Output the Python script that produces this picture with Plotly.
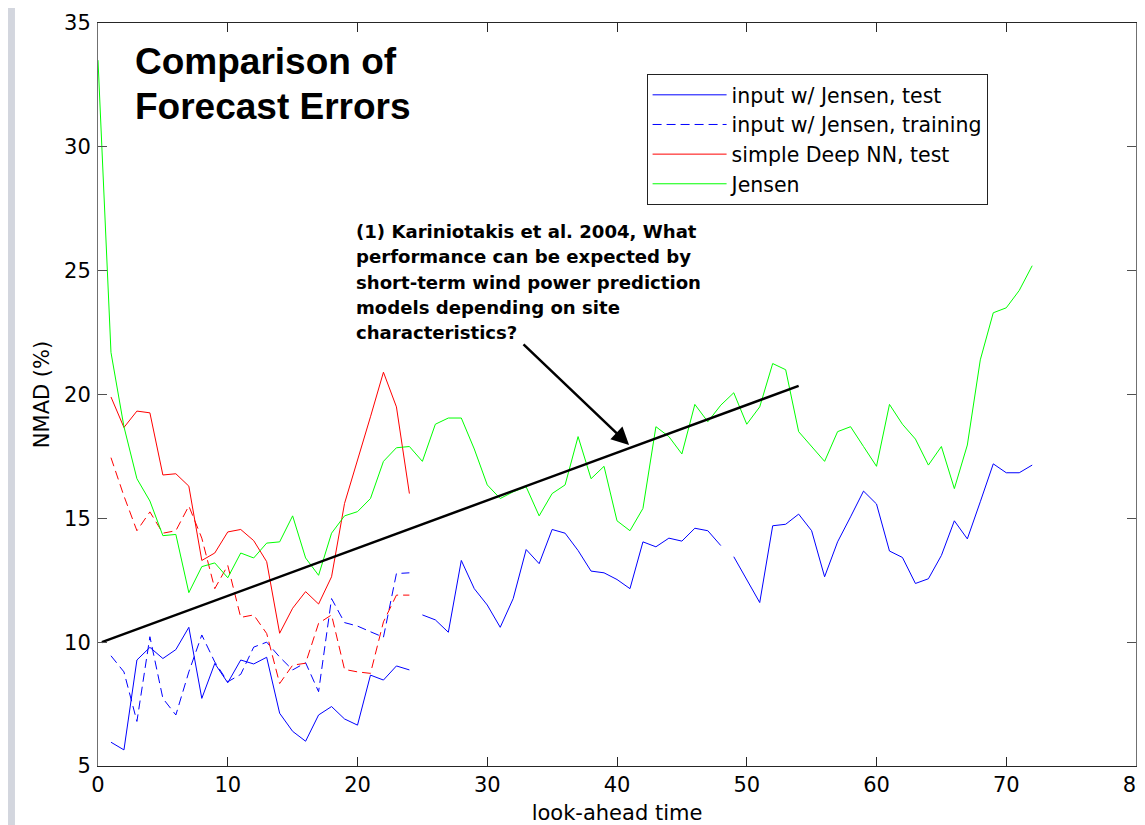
import plotly.graph_objects as go

# ---------------- data ----------------
hours_24 = list(range(1, 25))
hours_72 = list(range(1, 73))
hours_jensen = list(range(0, 73))

blue_test = [5.96, 5.65, 9.28, 9.79, 9.34, 9.7, 10.6, 7.73, 9.14, 8.36, 9.28, 9.12,
             9.39, 7.13, 6.4, 6.0, 7.06, 7.4, 6.9, 6.65, 8.67, 8.47, 9.04, 8.88,
             11.1, 10.9, 10.4, 13.3, 12.16, 11.5, 10.6, 11.76, 13.74, 13.17, 14.55, 14.4,
             13.7, 12.87, 12.8, 12.53, 12.16, 14.05, 13.85, 14.2, 14.08, 14.6, 14.5, 13.9,
             13.45, 12.5, 11.6, 14.7, 14.76, 15.17, 14.5, 12.64, 14.05, 15.06, 16.1, 15.58,
             13.68, 13.42, 12.37, 12.56, 13.5, 14.9, 14.17, 15.67, 17.2, 16.84, 16.84, 17.15]

blue_train = [9.45, 8.8, 6.8, 10.22, 7.73, 7.06, 8.8, 10.29, 9.2, 8.4, 8.7, 9.8,
              10.0, 9.4, 8.88, 9.17, 8.0, 11.76, 10.79, 10.65, 10.42, 10.2, 12.77, 12.8]

red_test = [19.9, 18.67, 19.33, 19.26, 16.75, 16.8, 16.3, 13.3, 13.6, 14.45, 14.55, 14.1,
            13.25, 10.36, 11.37, 12.04, 11.54, 12.64, 15.6, 17.3, 19.1, 20.9, 19.5, 16.0]

red_train = [17.45, 15.9, 14.5, 15.26, 14.4, 14.5, 15.5, 14.2, 12.16, 13.1, 11.0, 11.1,
             10.35, 8.33, 9.07, 9.15, 10.76, 11.1, 8.9, 8.8, 8.74, 10.82, 11.9, 11.9]

jensen = [33.5, 21.7, 18.7, 16.6, 15.7, 14.3, 14.35, 12.0, 13.05, 13.2, 12.6, 13.6,
          13.4, 14.0, 14.05, 15.1, 13.4, 12.7, 14.4, 15.1, 15.27, 15.8, 17.3, 17.85,
          17.9, 17.3, 18.8, 19.05, 19.05, 17.8, 16.35, 15.8, 16.07, 16.27, 15.1, 16.0,
          16.35, 18.3, 16.6, 17.1, 14.9, 14.5, 15.4, 18.7, 18.3, 17.6, 19.6, 18.9,
          19.57, 20.07, 18.8, 19.5, 21.25, 21.0, 18.5, 17.9, 17.3, 18.5, 18.7, 17.9,
          17.1, 19.6, 18.8, 18.2, 17.15, 17.9, 16.2, 17.96, 21.4, 23.3, 23.5, 24.2, 25.2]

segment_length = 24  # blue test series consists of three 24-hour forecast runs

trend_x = [0.3, 54.0]
trend_y = [10.0, 20.35]

arrow_tip = (40.93, 17.96)
arrow_tail = (32.68, 22.08)

legend_names = ["input w/ Jensen, test", "input w/ Jensen, training",
                "simple Deep NN, test", "Jensen"]
title_lines = ["Comparison of", "Forecast Errors"]
note_lines = ["(1) Kariniotakis et al. 2004, What",
              "performance can be expected by",
              "short-term wind power prediction",
              "models depending on site",
              "characteristics?"]
x_ticks = list(range(0, 81, 10))
y_ticks = list(range(5, 36, 5))

# ---------------- figure ----------------
TITLE_FONT = "Liberation Sans, Arial, sans-serif"
SMALL_FONT = "DejaVu Sans, sans-serif"

# break blue test into its segments
bt_x, bt_y = [], []
for i, (h, v) in enumerate(zip(hours_72, blue_test)):
    if i > 0 and i % segment_length == 0:
        bt_x.append(None)
        bt_y.append(None)
    bt_x.append(h)
    bt_y.append(v)

fig = go.Figure()
fig.add_trace(go.Scatter(x=bt_x, y=bt_y, mode="lines", name=legend_names[0],
                         line=dict(color="#0000ff", width=1), connectgaps=False))
fig.add_trace(go.Scatter(x=hours_24, y=blue_train, mode="lines", name=legend_names[1],
                         line=dict(color="#0000ff", width=1, dash="9px,5px")))
fig.add_trace(go.Scatter(x=hours_24, y=red_test, mode="lines", name=legend_names[2],
                         line=dict(color="#ff0000", width=1)))
fig.add_trace(go.Scatter(x=hours_24, y=red_train, mode="lines", showlegend=False,
                         line=dict(color="#ff0000", width=1, dash="9px,5px")))
fig.add_trace(go.Scatter(x=hours_jensen, y=jensen, mode="lines", name=legend_names[3],
                         line=dict(color="#00ff00", width=1)))
fig.add_trace(go.Scatter(x=trend_x, y=trend_y, mode="lines", showlegend=False,
                         line=dict(color="black", width=2.5)))

annotations = []
# title
for i, t in enumerate(title_lines):
    annotations.append(dict(x=2.7, y=33.45 - i * 1.82, xref="x", yref="y", text=t,
                            showarrow=False, xanchor="left", yanchor="middle",
                            font=dict(family=TITLE_FONT, size=37, color="black", weight="bold")))
# note
for i, t in enumerate(note_lines):
    annotations.append(dict(x=19.7, y=26.58 - i * 1.02, xref="x", yref="y", text=t,
                            showarrow=False, xanchor="left", yanchor="middle",
                            font=dict(family=SMALL_FONT, size=18.1, color="black", weight="bold")))
# arrow
annotations.append(dict(x=arrow_tip[0], y=arrow_tip[1], ax=arrow_tail[0], ay=arrow_tail[1],
                        xref="x", yref="y", axref="x", ayref="y", text="",
                        showarrow=True, arrowhead=2, arrowsize=1.4, arrowwidth=2.5,
                        arrowcolor="black"))

axis_common = dict(ticks="inside", ticklen=9, tickwidth=1, showline=True, mirror="allticks",
                   showgrid=False, zeroline=False, automargin=False,
                   ticklabeloverflow="allow",
                   tickfont=dict(family=SMALL_FONT, size=21, color="black"))

# the page body has an 8px default margin, so the figure is sized/margined to compensate
fig.update_layout(
    width=1137, height=817, autosize=False,
    margin=dict(l=90, r=9, t=15, b=59),
    paper_bgcolor="white", plot_bgcolor="white",
    font=dict(family=SMALL_FONT, color="black"),
    xaxis=dict(range=[0, 80], tickvals=x_ticks, linecolor="#262626", tickcolor="#262626",
               title=dict(text="look-ahead time", font=dict(family=SMALL_FONT, size=21), standoff=9),
               **axis_common),
    yaxis=dict(range=[5, 35], tickvals=y_ticks, linecolor="#707070", tickcolor="#505050",
               ticklabelstandoff=2,
               title=dict(text="NMAD (%)", font=dict(family=SMALL_FONT, size=21), standoff=8),
               **axis_common),
    legend=dict(x=0.5285, y=(766 - 74) / 743, xanchor="left", yanchor="top",
                bgcolor="white", bordercolor="#222222", borderwidth=1,
                font=dict(family=SMALL_FONT, size=20.5, color="black"),
                itemwidth=74, tracegroupgap=0),
    annotations=annotations,
    shapes=[
        dict(type="rect", xref="paper", yref="paper", x0=-0.0867, x1=-0.08, y0=-0.1, y1=1.1,
             fillcolor="#d3d6de", line=dict(width=0), layer="below"),
    ],
)

fig.write_html("out.html")
